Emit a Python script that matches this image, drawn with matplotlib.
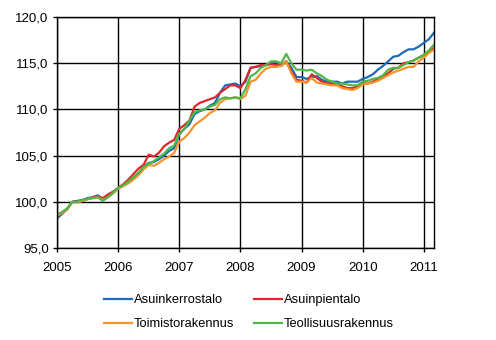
import matplotlib.pyplot as plt
import numpy as np

plt.rcParams['font.family'] = ['Liberation Sans', 'DejaVu Sans']

# monthly index, 2005M01 .. 2011M03
start_year = 2005
n_months = 75

asuinkerrostalo = [98.2, 98.7, 99.2, 100.0, 100.1, 100.2, 100.4, 100.5, 100.7, 100.3, 100.6, 101.0,
                   101.5, 101.8, 102.2, 102.6, 103.1, 103.8, 104.2, 104.3, 104.6, 105.0, 105.5, 105.8,
                   107.3, 107.9, 108.4, 109.5, 109.8, 110.0, 110.4, 110.7, 111.8, 112.6, 112.7, 112.8,
                   112.5, 113.0, 114.5, 114.6, 114.7, 114.8, 115.1, 115.1, 114.8, 115.2, 114.5, 113.5,
                   113.5, 113.3, 113.5, 113.6, 113.2, 113.0, 113.0, 113.0, 112.8, 113.0, 113.0, 113.0,
                   113.3, 113.5, 113.8, 114.3, 114.7, 115.2, 115.7, 115.8, 116.2, 116.5, 116.5, 116.8,
                   117.2, 117.6, 118.3]
asuinpientalo = [98.4, 98.8, 99.2, 100.0, 100.0, 100.1, 100.3, 100.5, 100.6, 100.4, 100.8, 101.1,
                 101.5, 101.9, 102.4, 103.0, 103.6, 104.0, 105.1, 104.9, 105.3, 106.0, 106.4, 106.7,
                 107.9, 108.3, 108.8, 110.3, 110.7, 110.9, 111.1, 111.3, 111.8, 112.2, 112.6, 112.6,
                 112.3, 113.2, 114.5, 114.6, 114.8, 114.8, 114.9, 114.8, 114.7, 115.2, 114.1, 113.2,
                 113.1, 112.9, 113.8, 113.4, 113.0, 112.8, 112.8, 112.7, 112.5, 112.3, 112.3, 112.5,
                 112.8, 112.8, 113.0, 113.3, 113.6, 113.9, 114.4, 114.5, 115.0, 115.1, 115.3, 115.6,
                 115.9, 116.3, 116.6]
toimistorakennus = [98.5, 98.8, 99.2, 100.0, 99.9, 100.1, 100.3, 100.4, 100.5, 100.2, 100.5, 100.9,
                    101.4, 101.7, 102.0, 102.4, 102.9, 103.5, 104.0, 103.9, 104.2, 104.6, 104.9, 105.3,
                    106.5, 106.9, 107.5, 108.3, 108.7, 109.1, 109.6, 109.9, 110.7, 111.1, 111.2, 111.3,
                    111.1, 111.5, 113.0, 113.2, 113.9, 114.4, 114.6, 114.6, 114.7, 115.2, 113.9, 113.0,
                    113.0, 112.9, 113.4, 112.9, 112.8, 112.7, 112.6, 112.6, 112.3, 112.2, 112.1, 112.3,
                    112.7, 112.8, 112.9, 113.1, 113.4, 113.7, 114.0, 114.2, 114.4, 114.6, 114.6, 115.2,
                    115.6, 116.1, 116.5]
teollisuusrakennus = [98.6, 98.9, 99.3, 100.0, 100.0, 100.2, 100.3, 100.4, 100.5, 100.1, 100.5, 101.0,
                      101.5, 101.8, 102.2, 102.7, 103.1, 103.8, 104.1, 104.4, 104.8, 105.2, 105.8, 106.1,
                      107.4, 107.9, 108.8, 109.7, 109.9, 110.0, 110.3, 110.5, 111.1, 111.3, 111.2, 111.3,
                      111.2, 112.2, 113.6, 113.9, 114.5, 114.8, 115.2, 115.2, 115.0, 116.0, 115.0, 114.3,
                      114.3, 114.2, 114.3, 113.9, 113.6, 113.2, 113.0, 112.8, 112.8, 112.7, 112.6, 112.6,
                      113.0, 113.1, 113.3, 113.4, 113.7, 114.3, 114.5, 114.5, 114.8, 115.1, 115.3, 115.6,
                      115.9, 116.4, 117.0]

labels = ['Asuinkerrostalo', 'Asuinpientalo', 'Toimistorakennus', 'Teollisuusrakennus']
colors = ['#1c6cb8', '#e0262e', '#f5942a', '#4cb848']
year_ticks = [2005, 2006, 2007, 2008, 2009, 2010, 2011]
y_ticks = [95, 100, 105, 110, 115, 120]

x = start_year + np.arange(n_months) / 12

fig = plt.figure(figsize=(4.96, 3.40), dpi=100)
ax = fig.add_axes([57/496, 92/340, 377/496, 231/340])

series = [asuinkerrostalo, asuinpientalo, toimistorakennus, teollisuusrakennus]
lines = []
for vals, lab, col in zip(series, labels, colors):
    ln, = ax.plot(x, vals, color=col, lw=1.6, label=lab)
    lines.append(ln)

ax.set_xlim(start_year, x[-1])
ax.set_ylim(95, 120)
ax.set_xticks(year_ticks)
ax.set_xticklabels([str(y) for y in year_ticks])
ax.set_yticks(y_ticks)
ax.set_yticklabels([f'{v:.1f}'.replace('.', ',') for v in y_ticks])
ax.grid(True, color='black', lw=1)
ax.set_axisbelow(True)
for s in ax.spines.values():
    s.set_color('black')
    s.set_linewidth(1)
ax.tick_params(length=3, width=1, labelsize=9.5, colors='black')
ax.tick_params(axis='x', pad=7)
ax.tick_params(axis='y', pad=3)

# legend fills column-wise, so reorder to get the rows right
order = [0, 2, 1, 3]
fig.legend([lines[i] for i in order], [labels[i] for i in order],
           loc='upper left', bbox_to_anchor=(104/496, 1 - 294/340), ncol=2,
           frameon=False, fontsize=9.3, handlelength=2.17, handletextpad=0.15,
           columnspacing=1.5, labelspacing=0.95, borderpad=0, borderaxespad=0)

fig.savefig('out.png', dpi=100)
